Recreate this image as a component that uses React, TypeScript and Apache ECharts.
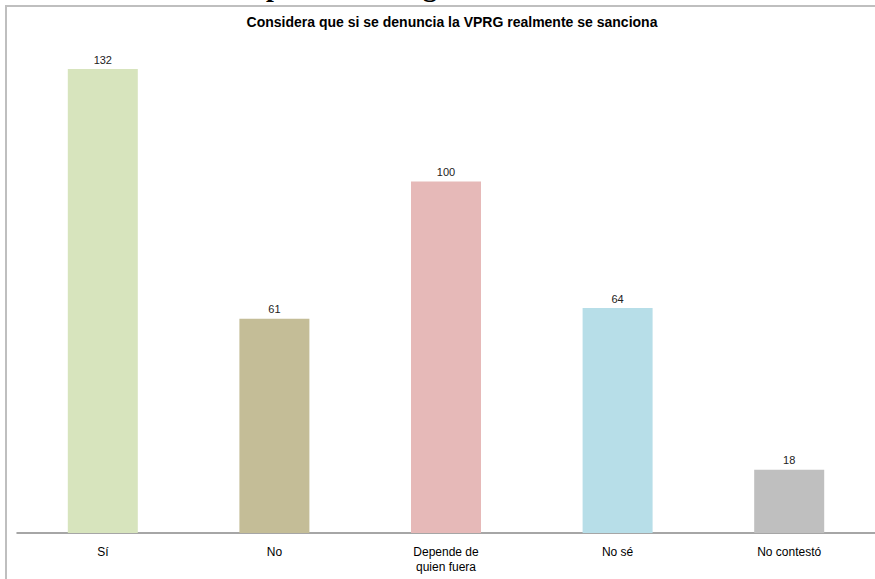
import React, { useEffect, useRef } from "react";
import * as echarts from "echarts";

const categories = ["Sí", "No", "Depende de\nquien fuera", "No sé", "No contestó"];
const values = [132, 61, 100, 64, 18];
const colors = ["#d7e4bd", "#c4bd97", "#e6b9b8", "#b7dee8", "#bfbfbf"];
const title = "Considera que si se denuncia la VPRG realmente se sanciona";

export default function App() {
  const ref = useRef<HTMLDivElement>(null);
  useEffect(() => {
    const chart = echarts.init(ref.current!, null, { renderer: "svg" });
    chart.setOption({
      animation: false,
      backgroundColor: "#ffffff",
      title: {
        text: title,
        left: 447,
        top: 10,
        textAlign: "center",
        textStyle: { fontFamily: "Liberation Sans, Arial", fontSize: 14, fontWeight: "bold", color: "#000" },
      },
      graphic: [
        {
          type: "rect",
          shape: { x: 6, y: 6, width: 1000, height: 1000 },
          style: { fill: "none", stroke: "#bfbfbf", lineWidth: 2 },
          silent: true,
        },
        {
          type: "text",
          x: 266,
          y: -28,
          style: { text: "p", font: "bold 28px 'Liberation Serif'", fill: "#000", verticalAlign: "top" },
        },
        {
          type: "text",
          x: 423,
          y: -28,
          style: { text: "g", font: "bold 28px 'Liberation Serif'", fill: "#000", verticalAlign: "top" },
        },
      ],
      grid: { left: 17, top: 41, width: 862, height: 492 },
      xAxis: {
        type: "category",
        data: categories,
        axisLine: { lineStyle: { color: "#898989", width: 1.5 } },
        axisTick: { show: false },
        axisLabel: {
          fontFamily: "Liberation Sans Narrow, Liberation Sans, Arial",
          fontSize: 12,
          color: "#000",
          margin: 11,
          lineHeight: 15,
        },
      },
      yAxis: {
        type: "value",
        min: 0,
        max: 140,
        show: false,
        splitLine: { show: false },
      },
      series: [
        {
          type: "bar",
          data: values.map((v, i) => ({ value: v, itemStyle: { color: colors[i] } })),
          barWidth: 70,
          label: {
            show: true,
            position: "top",
            distance: 4,
            fontFamily: "Liberation Sans, Arial",
            fontSize: 11,
            color: "#222",
          },
        },
      ],
    });
    return () => chart.dispose();
  }, []);
  return <div ref={ref} style={{ position: "absolute", left: 0, top: 0, width: 875, height: 579 }} />;
}
